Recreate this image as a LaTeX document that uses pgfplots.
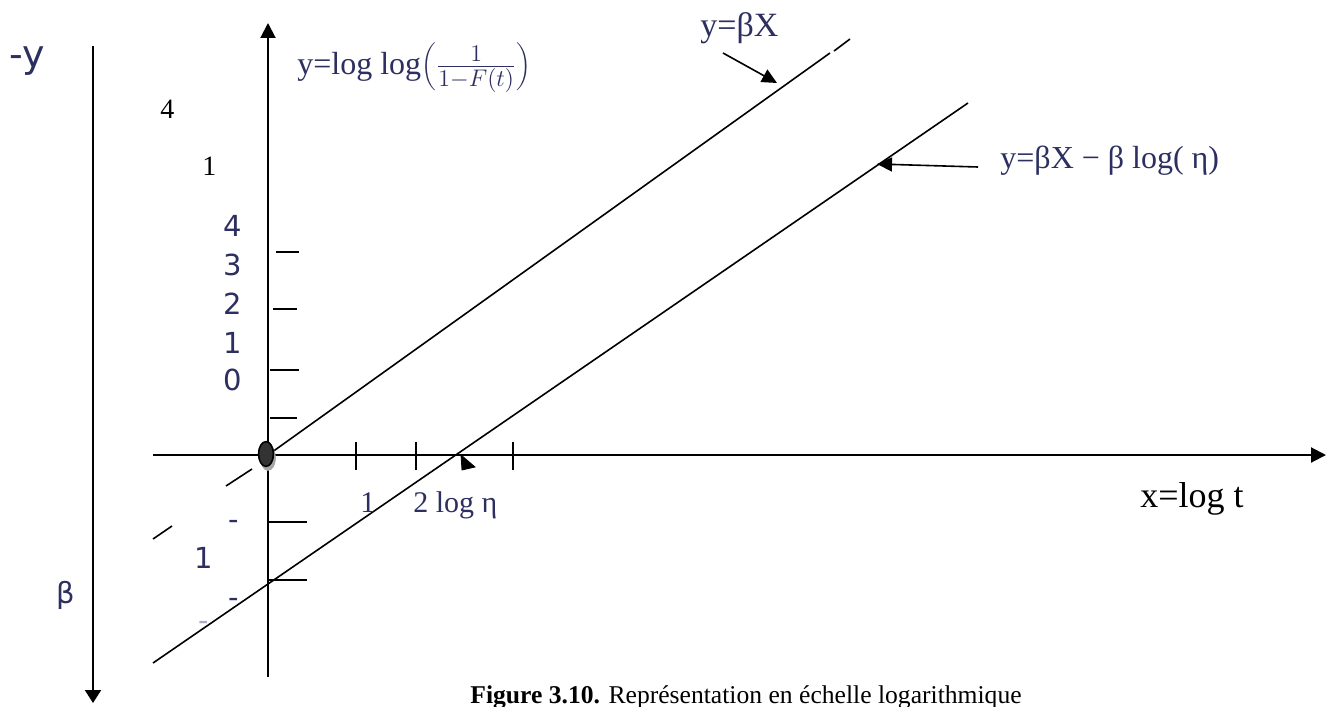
\documentclass[border=0pt]{standalone}
\usepackage{pgfplots}
\pgfplotsset{compat=1.18}
\usepackage{fontspec}
\setmainfont{Liberation Serif}
\newfontfamily\vsans{DejaVu Sans}
\usetikzlibrary{arrows.meta}
\definecolor{navy}{RGB}{44,47,96}
\DeclareMathSizes{16}{16}{12}{9}
\newcommand{\fs}[1]{\fontsize{#1}{#1}\selectfont}

\begin{document}
\begin{tikzpicture}
\begin{axis}[
  scale only axis, width=667.5pt, height=353pt,
  xmin=0, xmax=1335, ymin=0, ymax=706, y dir=reverse,
  hide axis, clip=false,
]
\coordinate (SW) at (axis cs:0,706);
\coordinate (NE) at (axis cs:1335,0);

% left downward arrow (-y direction, beta)
\addplot[black, line width=1pt, -{Triangle[length=6.5pt,width=8pt]}] coordinates {(93,46) (93,703)};
% y axis
\addplot[black, line width=1pt, -{Triangle[length=7.5pt,width=7.5pt]}] coordinates {(268,677) (268,23)};
% x axis
\addplot[black, line width=1pt, -{Triangle[length=7.5pt,width=7.5pt]}] coordinates {(153,455) (1326,455)};

% y ticks
\addplot[black, line width=1pt] coordinates {(276,252) (299,252)};
\addplot[black, line width=1pt] coordinates {(273,309) (297,309)};
\addplot[black, line width=1pt] coordinates {(270,370) (299,370)};
\addplot[black, line width=1pt] coordinates {(270,418) (297,418)};
\addplot[black, line width=1pt] coordinates {(268,522) (307,522)};
\addplot[black, line width=1pt] coordinates {(268,580) (307,580)};
% x ticks
\addplot[black, line width=1pt] coordinates {(356,442) (356,470)};
\addplot[black, line width=1pt] coordinates {(416,442) (416,470)};
\addplot[black, line width=1pt] coordinates {(513,442) (513,470)};

% y = beta X
\addplot[black, line width=0.8pt] coordinates {(268,455) (830,53)};
\addplot[black, line width=0.8pt] coordinates {(834,51) (850,39)};
\addplot[black, line width=0.8pt] coordinates {(226,486) (252,469)};
\addplot[black, line width=0.8pt] coordinates {(153,539) (172,526)};
% y = beta X - beta log(eta)
\addplot[black, line width=0.8pt] coordinates {(153,663) (968,103)};

% pointers
\addplot[black, line width=0.8pt, -{Triangle[length=7.5pt,width=7pt]}] coordinates {(723,53) (777,83)};
\addplot[black, line width=0.8pt, -{Triangle[length=7.5pt,width=7pt]}] coordinates {(978,167) (877,164)};
\addplot[black, fill=black] coordinates {(461,455) (475,467) (462,470)} -- cycle;

% origin
\addplot[only marks, mark=*, mark size=6.2pt, gray!70,
  mark options={xscale=0.6, fill=gray!70, draw=gray!70}] coordinates {(268,458)};
\addplot[only marks, mark=*, mark size=6.2pt, black,
  mark options={xscale=0.6, fill=black!80, draw=black, line width=0.8pt}] coordinates {(266,454)};

% labels
\node[anchor=base west, text=navy, inner sep=0pt] at (axis cs:9,68) {\vsans\fs{19}-y};
\node[anchor=base west, inner sep=0pt] at (axis cs:160,119) {\fs{14}4};
\node[anchor=base west, inner sep=0pt] at (axis cs:202,175) {\fs{14}1};
\node[anchor=base west, text=navy, inner sep=0pt] at (axis cs:297,75)
  {\fs{16}y=log log$\left(\frac{1}{1-F(t)}\right)$};

\node[anchor=base, text=navy, inner sep=0pt] at (axis cs:233,236) {\vsans\fs{14.5}4};
\node[anchor=base, text=navy, inner sep=0pt] at (axis cs:233,275) {\vsans\fs{14.5}3};
\node[anchor=base, text=navy, inner sep=0pt] at (axis cs:233,314) {\vsans\fs{14.5}2};
\node[anchor=base, text=navy, inner sep=0pt] at (axis cs:233,353) {\vsans\fs{14.5}1};
\node[anchor=base, text=navy, inner sep=0pt] at (axis cs:233,390) {\vsans\fs{14.5}0};
\node[anchor=base, text=navy, inner sep=0pt] at (axis cs:234,529) {\vsans\fs{14.5}-};
\node[anchor=base, text=navy, inner sep=0pt] at (axis cs:204,568) {\vsans\fs{14.5}1};
\node[anchor=base, text=navy, inner sep=0pt] at (axis cs:234,607) {\vsans\fs{14.5}-};
\node[anchor=base, text=navy!40, inner sep=0pt] at (axis cs:204,630) {\vsans\fs{14.5}-};
\node[anchor=base, text=navy, inner sep=0pt] at (axis cs:66,603) {\vsans\fs{14.5}β};

\node[anchor=base west, text=navy, inner sep=0pt] at (axis cs:360,512) {\fs{15}1};
\node[anchor=base west, text=navy, inner sep=0pt] at (axis cs:413,512) {\fs{15}2 log η};
\node[anchor=base west, inner sep=0pt] at (axis cs:1140,507) {\fs{18}x=log t};

\node[anchor=base west, text=navy, inner sep=0pt] at (axis cs:700,37) {\fs{17}y=βX};
\node[anchor=base west, text=navy, inner sep=0pt] at (axis cs:1000,168) {\fs{16}y=βX − β log( η)};

\node[anchor=base west, inner sep=0pt] at (axis cs:470,703)
  {\fs{12.8}\textbf{Figure 3.10.} Représentation en échelle logarithmique};
\end{axis}
\pgfresetboundingbox
\path[use as bounding box] (SW) rectangle (NE);
\end{tikzpicture}
\end{document}
